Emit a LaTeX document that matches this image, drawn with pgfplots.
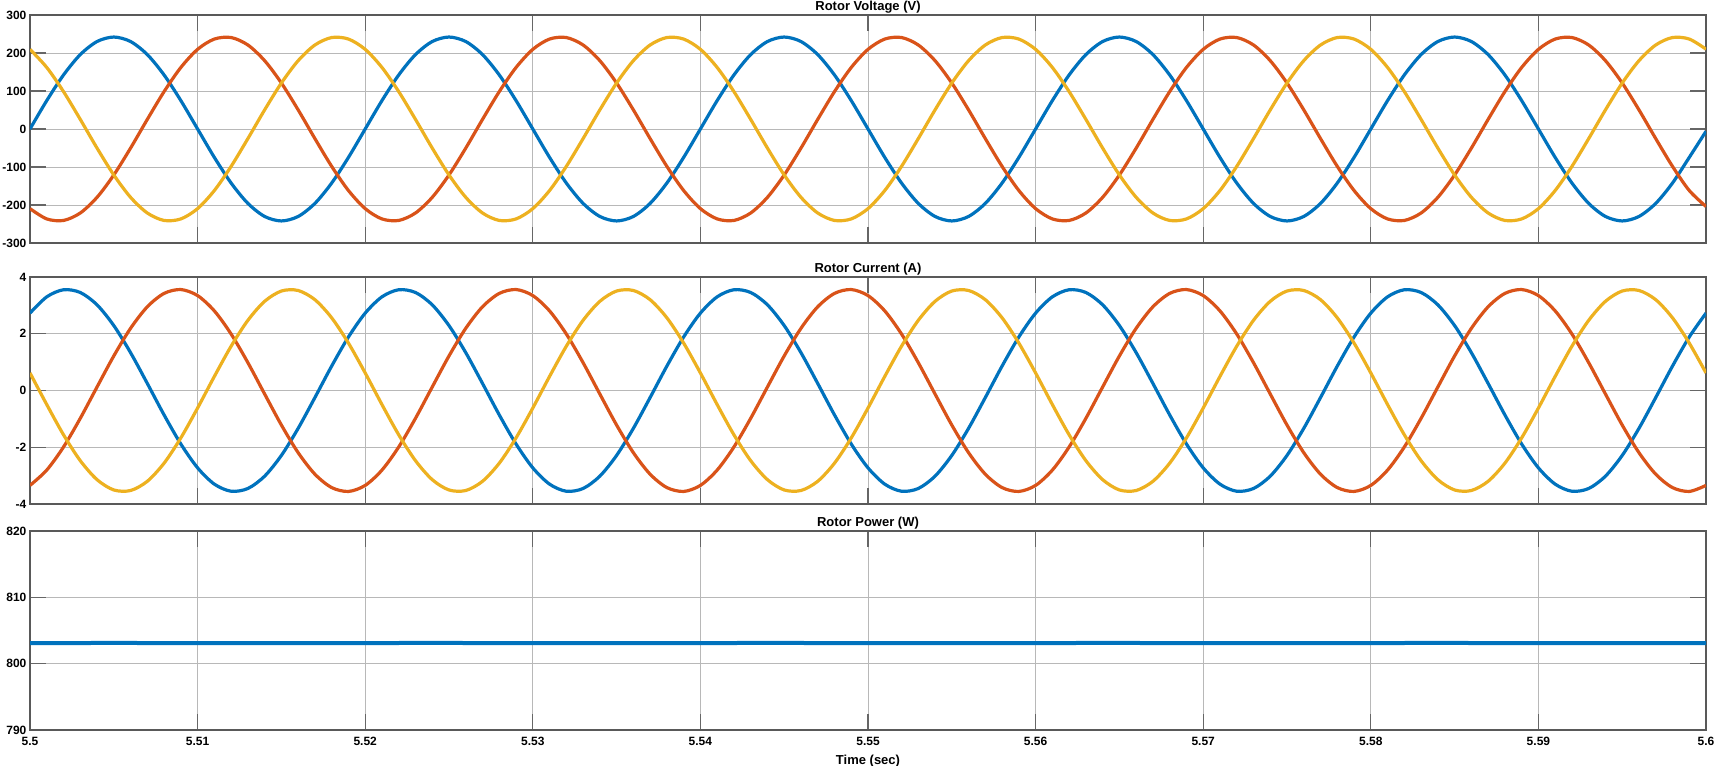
\documentclass[border=0pt]{standalone}
\usepackage{fontspec}
\setmainfont{Liberation Sans}
\usepackage{pgfplots}
\usepackage{pgfplotstable}
\pgfplotsset{compat=1.18}

\definecolor{mblue}{rgb}{0,0.447,0.741}
\definecolor{mred}{rgb}{0.85,0.325,0.098}
\definecolor{myellow}{rgb}{0.929,0.694,0.125}

% rotor quantities, sampled every 1 ms (50 Hz, 20 samples per cycle)
\pgfplotstableread{
t va vb vc ia ib ic
5.500 0 -209.6 209.6 2.727 -3.345 0.618
5.501 74.8 -236.7 161.9 3.301 -2.805 -0.496
5.502 142.2 -240.7 98.4 3.551 -1.991 -1.561
5.503 195.8 -221.1 25.3 3.454 -0.981 -2.473
5.504 230.2 -179.8 -50.3 3.019 0.124 -3.143
5.505 242 -121.0 -121.0 2.288 1.218 -3.506
5.506 230.2 -50.3 -179.8 1.334 2.192 -3.525
5.507 195.8 25.3 -221.1 0.248 2.951 -3.200
5.508 142.2 98.4 -240.7 -0.861 3.422 -2.561
5.509 74.8 161.9 -236.7 -1.886 3.558 -1.671
5.510 0 209.6 -209.6 -2.727 3.345 -0.618
5.511 -74.8 236.7 -161.9 -3.301 2.805 0.496
5.512 -142.2 240.7 -98.4 -3.551 1.991 1.561
5.513 -195.8 221.1 -25.3 -3.454 0.981 2.473
5.514 -230.2 179.8 50.3 -3.019 -0.124 3.143
5.515 -242 121.0 121.0 -2.288 -1.218 3.506
5.516 -230.2 50.3 179.8 -1.334 -2.192 3.525
5.517 -195.8 -25.3 221.1 -0.248 -2.951 3.200
5.518 -142.2 -98.4 240.7 0.861 -3.422 2.561
5.519 -74.8 -161.9 236.7 1.886 -3.558 1.671
5.520 0 -209.6 209.6 2.727 -3.345 0.618
5.521 74.8 -236.7 161.9 3.301 -2.805 -0.496
5.522 142.2 -240.7 98.4 3.551 -1.991 -1.561
5.523 195.8 -221.1 25.3 3.454 -0.981 -2.473
5.524 230.2 -179.8 -50.3 3.019 0.124 -3.143
5.525 242 -121.0 -121.0 2.288 1.218 -3.506
5.526 230.2 -50.3 -179.8 1.334 2.192 -3.525
5.527 195.8 25.3 -221.1 0.248 2.951 -3.200
5.528 142.2 98.4 -240.7 -0.861 3.422 -2.561
5.529 74.8 161.9 -236.7 -1.886 3.558 -1.671
5.530 0 209.6 -209.6 -2.727 3.345 -0.618
5.531 -74.8 236.7 -161.9 -3.301 2.805 0.496
5.532 -142.2 240.7 -98.4 -3.551 1.991 1.561
5.533 -195.8 221.1 -25.3 -3.454 0.981 2.473
5.534 -230.2 179.8 50.3 -3.019 -0.124 3.143
5.535 -242 121.0 121.0 -2.288 -1.218 3.506
5.536 -230.2 50.3 179.8 -1.334 -2.192 3.525
5.537 -195.8 -25.3 221.1 -0.248 -2.951 3.200
5.538 -142.2 -98.4 240.7 0.861 -3.422 2.561
5.539 -74.8 -161.9 236.7 1.886 -3.558 1.671
5.540 0 -209.6 209.6 2.727 -3.345 0.618
5.541 74.8 -236.7 161.9 3.301 -2.805 -0.496
5.542 142.2 -240.7 98.4 3.551 -1.991 -1.561
5.543 195.8 -221.1 25.3 3.454 -0.981 -2.473
5.544 230.2 -179.8 -50.3 3.019 0.124 -3.143
5.545 242 -121.0 -121.0 2.288 1.218 -3.506
5.546 230.2 -50.3 -179.8 1.334 2.192 -3.525
5.547 195.8 25.3 -221.1 0.248 2.951 -3.200
5.548 142.2 98.4 -240.7 -0.861 3.422 -2.561
5.549 74.8 161.9 -236.7 -1.886 3.558 -1.671
5.550 0 209.6 -209.6 -2.727 3.345 -0.618
5.551 -74.8 236.7 -161.9 -3.301 2.805 0.496
5.552 -142.2 240.7 -98.4 -3.551 1.991 1.561
5.553 -195.8 221.1 -25.3 -3.454 0.981 2.473
5.554 -230.2 179.8 50.3 -3.019 -0.124 3.143
5.555 -242 121.0 121.0 -2.288 -1.218 3.506
5.556 -230.2 50.3 179.8 -1.334 -2.192 3.525
5.557 -195.8 -25.3 221.1 -0.248 -2.951 3.200
5.558 -142.2 -98.4 240.7 0.861 -3.422 2.561
5.559 -74.8 -161.9 236.7 1.886 -3.558 1.671
5.560 0 -209.6 209.6 2.727 -3.345 0.618
5.561 74.8 -236.7 161.9 3.301 -2.805 -0.496
5.562 142.2 -240.7 98.4 3.551 -1.991 -1.561
5.563 195.8 -221.1 25.3 3.454 -0.981 -2.473
5.564 230.2 -179.8 -50.3 3.019 0.124 -3.143
5.565 242 -121.0 -121.0 2.288 1.218 -3.506
5.566 230.2 -50.3 -179.8 1.334 2.192 -3.525
5.567 195.8 25.3 -221.1 0.248 2.951 -3.200
5.568 142.2 98.4 -240.7 -0.861 3.422 -2.561
5.569 74.8 161.9 -236.7 -1.886 3.558 -1.671
5.570 0 209.6 -209.6 -2.727 3.345 -0.618
5.571 -74.8 236.7 -161.9 -3.301 2.805 0.496
5.572 -142.2 240.7 -98.4 -3.551 1.991 1.561
5.573 -195.8 221.1 -25.3 -3.454 0.981 2.473
5.574 -230.2 179.8 50.3 -3.019 -0.124 3.143
5.575 -242 121.0 121.0 -2.288 -1.218 3.506
5.576 -230.2 50.3 179.8 -1.334 -2.192 3.525
5.577 -195.8 -25.3 221.1 -0.248 -2.951 3.200
5.578 -142.2 -98.4 240.7 0.861 -3.422 2.561
5.579 -74.8 -161.9 236.7 1.886 -3.558 1.671
5.580 0 -209.6 209.6 2.727 -3.345 0.618
5.581 74.8 -236.7 161.9 3.301 -2.805 -0.496
5.582 142.2 -240.7 98.4 3.551 -1.991 -1.561
5.583 195.8 -221.1 25.3 3.454 -0.981 -2.473
5.584 230.2 -179.8 -50.3 3.019 0.124 -3.143
5.585 242 -121.0 -121.0 2.288 1.218 -3.506
5.586 230.2 -50.3 -179.8 1.334 2.192 -3.525
5.587 195.8 25.3 -221.1 0.248 2.951 -3.200
5.588 142.2 98.4 -240.7 -0.861 3.422 -2.561
5.589 74.8 161.9 -236.7 -1.886 3.558 -1.671
5.590 0 209.6 -209.6 -2.727 3.345 -0.618
5.591 -74.8 236.7 -161.9 -3.301 2.805 0.496
5.592 -142.2 240.7 -98.4 -3.551 1.991 1.561
5.593 -195.8 221.1 -25.3 -3.454 0.981 2.473
5.594 -230.2 179.8 50.3 -3.019 -0.124 3.143
5.595 -242 121.0 121.0 -2.288 -1.218 3.506
5.596 -230.2 50.3 179.8 -1.334 -2.192 3.525
5.597 -195.8 -25.3 221.1 -0.248 -2.951 3.200
5.598 -142.2 -98.4 240.7 0.861 -3.422 2.561
5.599 -74.8 -161.9 236.7 1.886 -3.558 1.671
5.600 -6 -204 210 2.727 -3.345 0.618
}\rotor

\pgfplotstableread{
t p
5.500 803.10
5.505 803.12
5.510 803.10
5.515 803.08
5.520 803.11
5.525 803.12
5.530 803.09
5.535 803.08
5.540 803.11
5.545 803.12
5.550 803.10
5.555 803.09
5.560 803.11
5.565 803.12
5.570 803.10
5.575 803.08
5.580 803.11
5.585 803.12
5.590 803.09
5.595 803.08
5.600 803.10
}\power

\pgfplotsset{
  scopeaxis/.style={
    scale only axis, width=838pt,
    xmin=5.5, xmax=5.6,
    xtick={5.5,5.51,5.52,5.53,5.54,5.55,5.56,5.57,5.58,5.59,5.6},
    grid=major,
    major grid style={black!28, line width=0.45pt},
    axis line style={black!65, line width=0.6pt},
    tick style={black!60, line width=0.6pt},
    tick align=inside,
    major tick length=8pt,
    ticklabel style={font=\fontsize{6}{7}\selectfont\bfseries},
    yticklabel style={inner sep=1.6pt},
    /pgf/number format/assume math mode=true,
    every axis title/.style={at={(0.5,1)}, anchor=south, inner sep=0.6pt,
      font=\fontsize{6.5}{7}\selectfont\bfseries},
    every axis plot/.append style={line width=1.6pt, smooth},
  },
}

\begin{document}
\begin{tikzpicture}
\path[use as bounding box] (0,0) rectangle (858.5pt,-382.5pt);

\begin{axis}[scopeaxis, at={(15pt,-7.5pt)}, anchor=north west, height=114pt,
  ymin=-300, ymax=300, ytick={-300,-200,-100,0,100,200,300},
  xticklabels={}, title={Rotor Voltage (V)}]
  \addplot[mblue] table[x=t, y=va] {\rotor};
  \addplot[mred] table[x=t, y=vb] {\rotor};
  \addplot[myellow] table[x=t, y=vc] {\rotor};
\end{axis}

\begin{axis}[scopeaxis, at={(15pt,-138.5pt)}, anchor=north west, height=113.5pt,
  ymin=-4, ymax=4, ytick={-4,-2,0,2,4},
  xticklabels={}, title={Rotor Current (A)}]
  \addplot[mblue] table[x=t, y=ia] {\rotor};
  \addplot[mred] table[x=t, y=ib] {\rotor};
  \addplot[myellow] table[x=t, y=ic] {\rotor};
\end{axis}

\begin{axis}[scopeaxis, at={(15pt,-265.5pt)}, anchor=north west, height=99.5pt,
  ymin=790, ymax=820, ytick={790,800,810,820},
  title={Rotor Power (W)},
  xlabel={Time (sec)},
  xlabel style={font=\fontsize{6.5}{7}\selectfont\bfseries, inner sep=0pt, yshift=-1pt}]
  \addplot[mblue, line width=2pt] table[x=t, y=p] {\power};
\end{axis}
\end{tikzpicture}
\end{document}
